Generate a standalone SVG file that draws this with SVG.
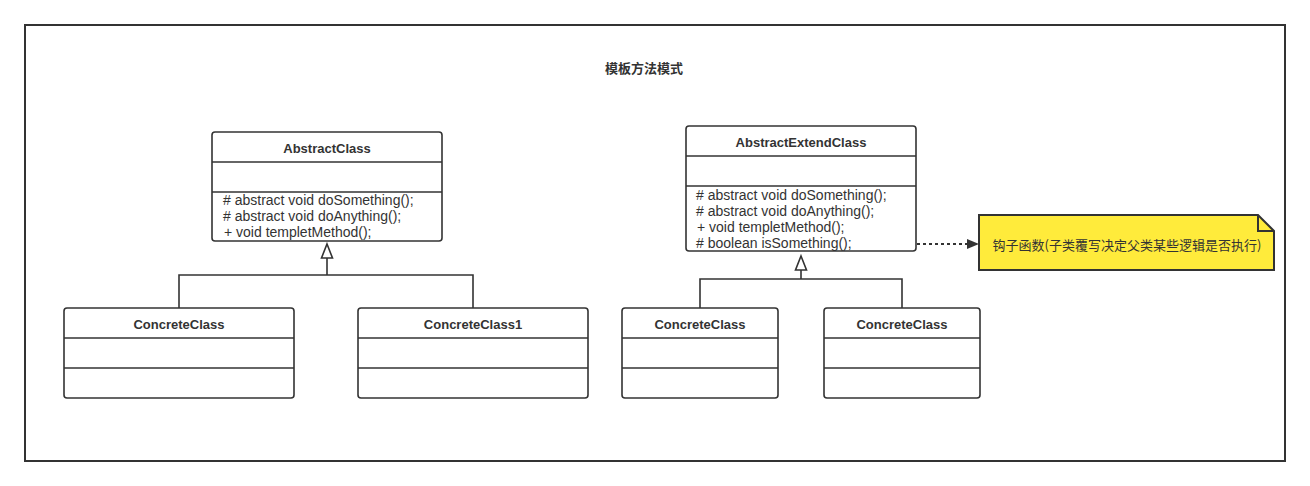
<svg xmlns="http://www.w3.org/2000/svg" width="1310" height="486" viewBox="0 0 1310 486">
<style>
.box{fill:#fff;stroke:#333;stroke-width:1.6}
.sep{stroke:#333;stroke-width:1.6}
.name{font-family:"Liberation Sans",Arial,sans-serif;font-weight:bold;font-size:13px;fill:#333;text-anchor:middle}
.mem{font-family:"Liberation Sans",Arial,sans-serif;font-size:14px;fill:#333}
.conn{fill:none;stroke:#333;stroke-width:1.6}
.tri{fill:#fff;stroke:#333;stroke-width:1.6}
.cjk{font-family:"Noto Sans CJK SC","Noto Sans",sans-serif;font-size:13px;fill:#333}
</style>
<rect width="1310" height="486" fill="#fff"/>
<rect x="25" y="25" width="1260" height="436" fill="#fff" stroke="#333" stroke-width="2"/>
<text class="cjk" x="644" y="73" text-anchor="middle" font-weight="bold">模板方法模式</text>

<g id="AbstractClass">
<rect class="box" x="212" y="132" width="230" height="109" rx="3"/>
<line class="sep" x1="212" y1="162" x2="442" y2="162"/>
<line class="sep" x1="212" y1="192" x2="442" y2="192"/>
<text class="name" x="327" y="152.5">AbstractClass</text>
<text class="mem" x="223" y="205">#&#160;abstract void doSomething();</text>
<text class="mem" x="223" y="221">#&#160;abstract void doAnything();</text>
<text class="mem" x="224" y="237">+ void templetMethod();</text>
</g>

<g id="AbstractExtendClass">
<rect class="box" x="686" y="126" width="230" height="125" rx="3"/>
<line class="sep" x1="686" y1="156" x2="916" y2="156"/>
<line class="sep" x1="686" y1="186" x2="916" y2="186"/>
<text class="name" x="801" y="146.5">AbstractExtendClass</text>
<text class="mem" x="696" y="200">#&#160;abstract void doSomething();</text>
<text class="mem" x="696" y="216">#&#160;abstract void doAnything();</text>
<text class="mem" x="697" y="232">+ void templetMethod();</text>
<text class="mem" x="696" y="248">#&#160;boolean isSomething();</text>
</g>

<g id="ConcreteClass_L1">
<rect class="box" x="64" y="308" width="230" height="90" rx="3"/>
<line class="sep" x1="64" y1="338" x2="294" y2="338"/>
<line class="sep" x1="64" y1="368" x2="294" y2="368"/>
<text class="name" x="179" y="328.5">ConcreteClass</text>
</g>

<g id="ConcreteClass1">
<rect class="box" x="358" y="308" width="230" height="90" rx="3"/>
<line class="sep" x1="358" y1="338" x2="588" y2="338"/>
<line class="sep" x1="358" y1="368" x2="588" y2="368"/>
<text class="name" x="473" y="328.5">ConcreteClass1</text>
</g>

<g id="ConcreteClass_R1">
<rect class="box" x="622" y="308" width="156" height="90" rx="3"/>
<line class="sep" x1="622" y1="338" x2="778" y2="338"/>
<line class="sep" x1="622" y1="368" x2="778" y2="368"/>
<text class="name" x="700" y="328.5">ConcreteClass</text>
</g>

<g id="ConcreteClass_R2">
<rect class="box" x="824" y="308" width="156" height="90" rx="3"/>
<line class="sep" x1="824" y1="338" x2="980" y2="338"/>
<line class="sep" x1="824" y1="368" x2="980" y2="368"/>
<text class="name" x="902" y="328.5">ConcreteClass</text>
</g>

<g id="Note">
<path d="M979,215 H1258 L1274,231 V270 H979 Z" fill="#ffeb3b" stroke="#333" stroke-width="2"/>
<path d="M1258,215 V231 H1274" fill="none" stroke="#333" stroke-width="2"/>
<text class="cjk" x="1127" y="249.5" text-anchor="middle">钩子函数(子类覆写决定父类某些逻辑是否执行)</text>
</g>

<g id="connectors">
<path class="conn" d="M179,308 V275 H473 V308 M327,275 V258"/>
<path class="tri" d="M327,244 L332.5,258 H321.5 Z"/>
<path class="conn" d="M700,308 V279 H902 V308 M801,279 V270"/>
<path class="tri" d="M801,256 L806.5,270 H795.5 Z"/>
<line x1="917" y1="244" x2="968" y2="244" stroke="#333" stroke-width="2" stroke-dasharray="3 3"/>
<path d="M979,244 L967,239 V249 Z" fill="#333"/>
</g>
</svg>
